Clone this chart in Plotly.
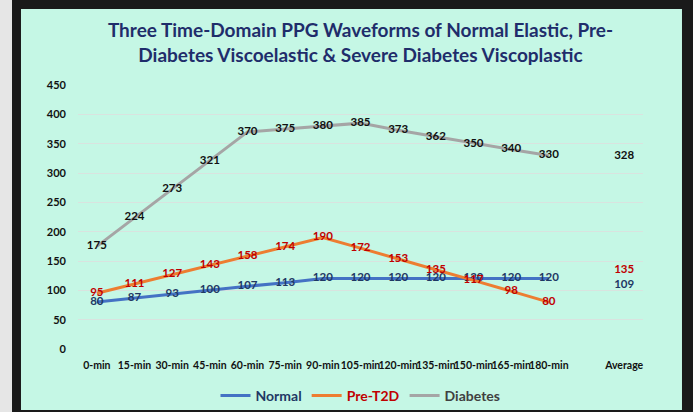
import plotly.graph_objects as go

# categories (blank slot between 180-min and Average, as in the source chart)
categories = ["0-min", "15-min", "30-min", "45-min", "60-min", "75-min", "90-min",
              "105-min", "120-min", "135-min", "150-min", "165-min", "180-min", "", "Average"]

normal = [80, 87, 93, 100, 107, 113, 120, 120, 120, 120, 120, 120, 120, None, 109]
pre_t2d = [95, 111, 127, 143, 158, 174, 190, 172, 153, 135, 117, 98, 80, None, 135]
diabetes = [175, 224, 273, 321, 370, 375, 380, 385, 373, 362, 350, 340, 330, None, 328]

y_ticks = [0, 50, 100, 150, 200, 250, 300, 350, 400, 450]

FONT = "Lato"
MINT = "#C5F7E5"
x_idx = list(range(len(categories)))


def labels(vals):
    return ["" if v is None else str(v) for v in vals]


series = [
    ("Normal", normal, "#4472C4", "#1F3864", "#1F3864"),
    ("Pre-T2D", pre_t2d, "#ED7D31", "#C00000", "#C00000"),
    ("Diabetes", diabetes, "#A5A5A5", "#111111", "#404040"),
]

fig = go.Figure()
for name, vals, line_c, lab_c, leg_c in series:
    fig.add_trace(go.Scatter(
        x=x_idx, y=vals, mode="lines+text",
        name=f"<span style='color:{leg_c}'><b>{name}</b></span>",
        line=dict(color=line_c, width=3),
        text=labels(vals), textposition="middle center",
        textfont=dict(family=FONT, size=11.5, color=lab_c, weight="bold"),
        connectgaps=False,
    ))

# dark screenshot frame around the mint chart panel
fig.add_shape(type="rect", xref="paper", yref="paper",
              x0=-0.1009, x1=1.069, y0=-0.231, y1=1.288,
              fillcolor=MINT, line_width=0, layer="below")
fig.add_shape(type="rect", xref="paper", yref="paper",
              x0=-0.14, x1=-0.1168, y0=-0.3, y1=1.33,
              fillcolor="#E6E6E6", line_width=0, layer="below")

fig.update_layout(
    width=693, height=412,
    margin=dict(l=78, r=50, t=85, b=63, autoexpand=False),
    paper_bgcolor="#1A1A1A",
    plot_bgcolor=MINT,
    font=dict(family=FONT, color="#111111"),
    title=dict(
        text="<b>Three Time-Domain PPG Waveforms of Normal Elastic, Pre-<br>"
             "Diabetes Viscoelastic & Severe Diabetes Viscoplastic</b>",
        x=0.5, xref="paper", xanchor="center",
        y=1 - 37 / 412, yref="container", yanchor="middle",
        font=dict(family=FONT, size=19, color="#1F2D6B"),
    ),
    showlegend=True,
    legend=dict(
        orientation="h", x=0.5, xanchor="center", y=-0.178, yanchor="middle",
        font=dict(family=FONT, size=14), bgcolor="rgba(0,0,0,0)",
        itemwidth=30, tracegroupgap=0,
    ),
)

fig.update_xaxes(
    tickmode="array", tickvals=x_idx, ticktext=[f"<b>{c}</b>" for c in categories],
    range=[-0.5, len(categories) - 0.5],
    tickangle=0, automargin=False,
    showgrid=False, zeroline=False, showline=False,
    tickfont=dict(family=FONT, size=10.5, color="#111111"),
    ticklabelstandoff=8,
)
fig.update_yaxes(
    range=[0, 450], tickvals=y_ticks, ticktext=[f"<b>{t}</b>" for t in y_ticks],
    automargin=False,
    showgrid=True, gridcolor="#D9E3DF", gridwidth=1,
    zeroline=False, showline=False,
    tickfont=dict(family=FONT, size=11, color="#111111"),
    ticklabelstandoff=11,
)

# drop the default page margin so the figure sits at the window's corner
fig.write_html("out.html", config={"displayModeBar": False},
               post_script="document.body.style.margin='0';")
